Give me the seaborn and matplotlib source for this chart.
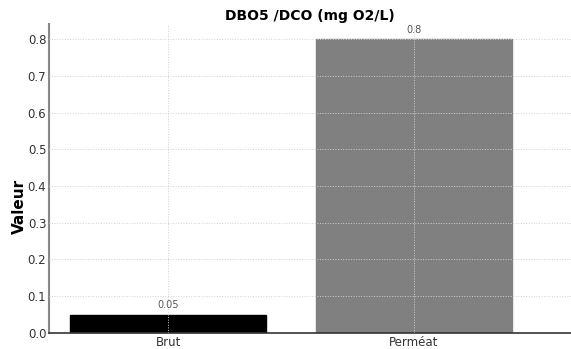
import matplotlib
matplotlib.use("Agg")
import matplotlib.pyplot as plt
import seaborn as sns
import pandas as pd

# données
categories = ['Brut', 'Perméat']
valeurs = [0.05, 0.8]
couleurs = ['black', 'gray']

df = pd.DataFrame({'cat': categories, 'val': valeurs})

sns.set_style('white')
plt.rcParams['font.family'] = ['DejaVu Sans']

fig = plt.figure(figsize=(5.71, 3.49), dpi=100)
ax = fig.add_axes([0.086, 0.046, 0.914, 0.884])

sns.barplot(data=df, x='cat', y='val', hue='cat', palette=couleurs,
            width=0.8, legend=False, ax=ax, saturation=1)
for p, c in zip(ax.patches, couleurs):
    p.set_edgecolor(c)
    p.set_zorder(1)

for i, v in enumerate(valeurs):
    ax.text(i, v + 0.012, f'{v:g}', ha='center', va='bottom', fontsize=7, color='#555555')

ax.set_xlim(-0.485, 1.64)
ax.set_ylim(0, 0.84)
ax.set_yticks([0, 0.1, 0.2, 0.3, 0.4, 0.5, 0.6, 0.7, 0.8])
ax.grid(True, linestyle=':', color='#d0d0d0', linewidth=0.7, zorder=3)
ax.set_axisbelow(False)

ax.set_title('DBO5 /DCO (mg O2/L)', fontsize=10, fontweight='bold', color='black', pad=3)
ax.set_ylabel('Valeur', fontsize=11, fontweight='bold', color='black')
ax.yaxis.set_label_coords(-0.042, 0.41)
ax.set_xlabel('')
ax.tick_params(axis='both', labelsize=8.5, labelcolor='#333333', direction='in',
               length=3, color='#555555', pad=2)

for s in ['top', 'right']:
    ax.spines[s].set_visible(False)
ax.spines['left'].set_color('#888888')
ax.spines['left'].set_linewidth(1.5)
ax.spines['bottom'].set_color('#333333')
ax.spines['bottom'].set_linewidth(1.2)

fig.savefig('out.png', dpi=100)
